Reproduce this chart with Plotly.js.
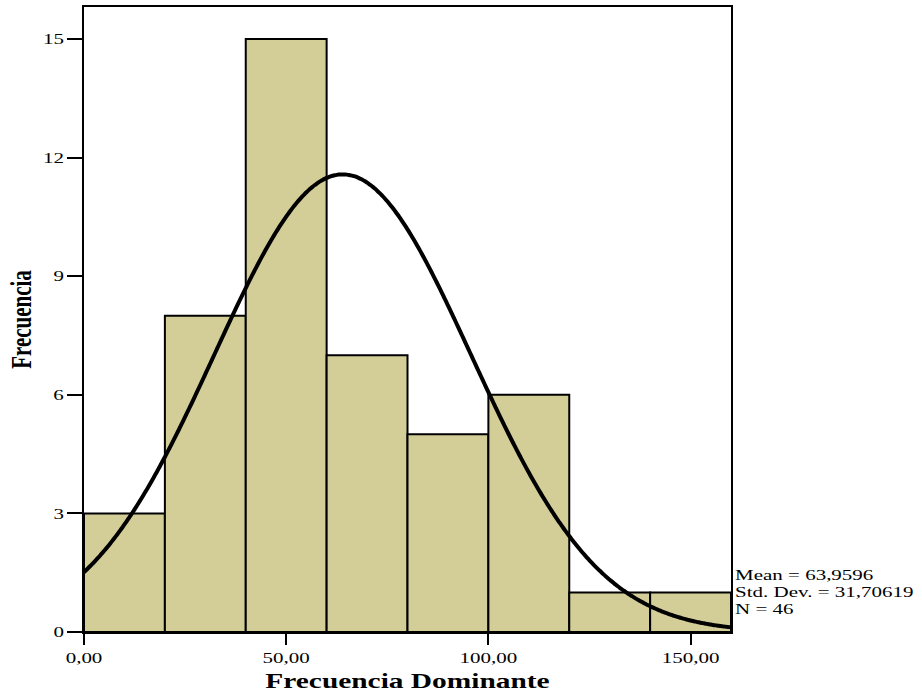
<!DOCTYPE html>
<html>
<head>
<meta charset="utf-8">
<script src="https://cdn.plot.ly/plotly-3.0.1.min.js"></script>
<style>
  html, body { margin: 0; padding: 0; background: #ffffff; }
  #chart { width: 922px; height: 696px; }
</style>
</head>
<body>
<div id="chart"></div>
<script>
// Histogram of "Frecuencia Dominante" (bins of width 20)
const binStarts = [0, 20, 40, 60, 80, 100, 120, 140];
const binWidth = 20;
const counts = [3, 8, 15, 7, 5, 6, 1, 1];

// Summary statistics shown beside the plot
const statMean = 63.9596;
const statSD = 31.70619;
const statN = 46;

const xTickVals = [0, 50, 100, 150];
const xTickText = ['0,00', '50,00', '100,00', '150,00'];
const yTickVals = [0, 3, 6, 9, 12, 15];

const barCenters = binStarts.map(s => s + binWidth / 2);

// Normal curve scaled to counts (N * bin width * density)
const curveX = [];
const curveY = [];
for (let i = 0; i <= 320; i++) {
  const x = i * 0.5;
  const z = (x - statMean) / statSD;
  curveX.push(x);
  curveY.push(statN * binWidth * Math.exp(-0.5 * z * z) / (statSD * Math.sqrt(2 * Math.PI)));
}

const serif = 'Liberation Serif, Times New Roman, serif';

const traces = [
  {
    type: 'bar',
    x: barCenters,
    y: counts,
    width: binWidth,
    marker: { color: '#D3CE98', line: { color: '#000000', width: 2 } },
    hoverinfo: 'x+y'
  },
  {
    type: 'scatter',
    mode: 'lines',
    x: curveX,
    y: curveY,
    line: { color: '#000000', width: 4, shape: 'spline' },
    hoverinfo: 'skip'
  }
];

function fmt(v, d) { return v.toFixed(d).replace('.', ','); }

const statLines = [
  'Mean = ' + fmt(statMean, 4),
  'Std. Dev. = ' + fmt(statSD, 5),
  'N = ' + statN
];

const layout = {
  width: 922,
  height: 696,
  margin: { l: 84, r: 191, t: 7, b: 64 },
  paper_bgcolor: '#ffffff',
  plot_bgcolor: '#ffffff',
  showlegend: false,
  bargap: 0,
  font: { family: serif, color: '#000000', size: 15 },
  xaxis: {
    range: [0, 160],
    tickvals: xTickVals,
    ticktext: xTickText,
    ticks: 'outside',
    ticklen: 11,
    tickwidth: 2,
    tickcolor: '#000000',
    showgrid: false,
    zeroline: false,
    showline: true,
    linewidth: 2,
    linecolor: '#000000',
    mirror: true,
    tickfont: { family: serif, size: 15, color: '#000000' },
    title: { text: '<b>Frecuencia Dominante</b>', font: { family: serif, size: 21, color: '#000000' }, standoff: 8 }
  },
  yaxis: {
    range: [0, 15.81],
    tickvals: yTickVals,
    ticks: 'outside',
    ticklen: 15,
    tickwidth: 2,
    tickcolor: '#000000',
    showgrid: false,
    zeroline: false,
    showline: true,
    linewidth: 2,
    linecolor: '#000000',
    mirror: true,
    tickfont: { family: serif, size: 15, color: '#000000' },
    title: { text: '<b>Frecuencia</b>', font: { family: serif, size: 21, color: '#000000' }, standoff: 14 }
  },
  annotations: statLines.map((t, i) => ({
    xref: 'paper', yref: 'y',
    x: 1, y: 1.44 - i * 0.43,
    xanchor: 'left', yanchor: 'middle',
    xshift: 2,
    showarrow: false,
    text: t,
    font: { family: serif, size: 15, color: '#000000' }
  }))
};

// Widen the lettering horizontally, keeping each label's anchor edge in place
function widenText(gd, sx) {
  gd.querySelectorAll('text').forEach(t => {
    if (!t.textContent.trim()) return;
    const r = t.getBoundingClientRect();
    let ax;
    if (t.closest('.ytick')) ax = r.right;
    else if (t.closest('.annotation')) ax = r.left;
    else ax = (r.left + r.right) / 2;
    const ay = (r.top + r.bottom) / 2;
    const ctm = t.parentNode.getScreenCTM();
    if (!ctm) return;
    const p = new DOMPoint(ax, ay).matrixTransform(ctm.inverse());
    const prev = t.getAttribute('transform') || '';
    t.setAttribute('transform',
      `translate(${p.x},${p.y}) scale(${sx},1) translate(${-p.x},${-p.y}) ${prev}`);
  });
}

Plotly.newPlot('chart', traces, layout, { displayModeBar: false, staticPlot: true })
  .then(gd => widenText(gd, 1.4));
</script>
</body>
</html>
